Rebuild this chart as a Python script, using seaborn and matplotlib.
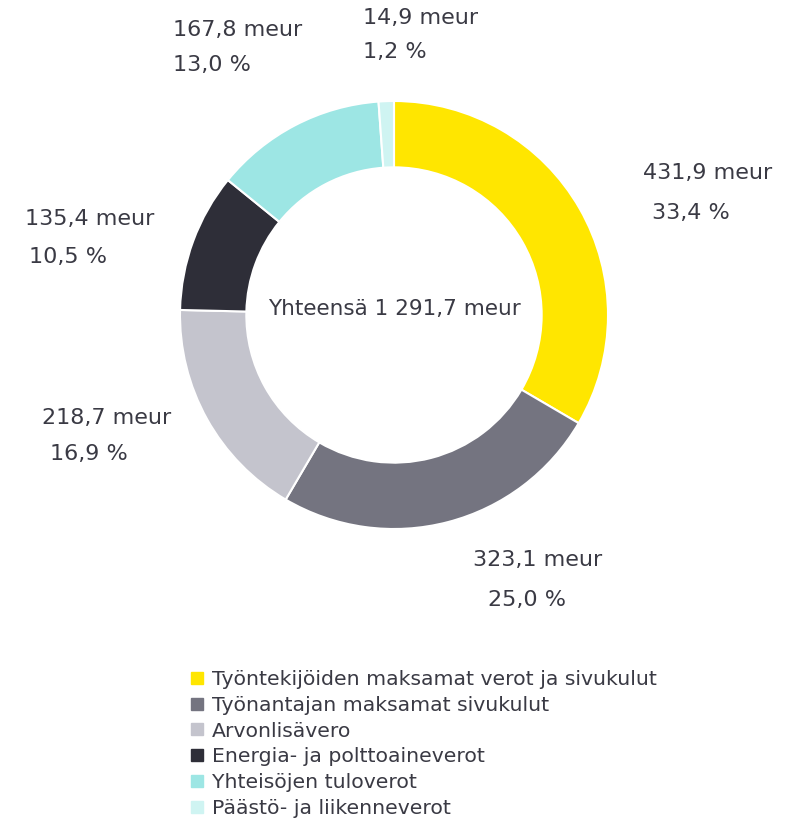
import matplotlib
matplotlib.use("Agg")
import matplotlib.pyplot as plt
from matplotlib.lines import Line2D
import seaborn as sns

categories = ["Työntekijöiden maksamat verot ja sivukulut",
              "Työnantajan maksamat sivukulut",
              "Arvonlisävero",
              "Energia- ja polttoaineverot",
              "Yhteisöjen tuloverot",
              "Päästö- ja liikenneverot"]
values = [431.9, 323.1, 218.7, 135.4, 167.8, 14.9]
shares = ["33,4 %", "25,0 %", "16,9 %", "10,5 %", "13,0 %", "1,2 %"]
total_label = "Yhteensä 1 291,7 meur"

colors = sns.color_palette(["#FFE600", "#747480", "#C4C4CD", "#2E2E38", "#9DE6E4", "#CFF4F2"])
text_col = "#3A3A44"

sns.set_theme(style="white")
plt.rcParams["font.family"] = ["DejaVu Sans"]

W, H = 802, 824
fig = plt.figure(figsize=(W / 100, H / 100), dpi=100)
cx, cy, r = 394, 315, 214
ax = fig.add_axes([(cx - r) / W, (H - cy - r) / H, 2 * r / W, 2 * r / H])
ax.pie(values, colors=colors, startangle=90, counterclock=False, radius=1,
       wedgeprops=dict(width=0.31, edgecolor="white", linewidth=1.5))
ax.set_xlim(-1, 1)
ax.set_ylim(-1, 1)
ax.set_aspect("equal")
ax.axis("off")
ax.text(0, 0.03, total_label, ha="center", va="center", fontsize=15.5, color=text_col)

# label positions in pixels (left, center y of first line)
label_pos = [(643, 173), (473, 560), (42, 418), (25, 219), (173, 30), (363, 18)]
share_off = [(9, 40), (15, 40), (8, 36), (4, 38), (0, 35), (0, 34)]
for v, s, (x, y), (dx, dy) in zip(values, shares, label_pos, share_off):
    fig.text(x / W, 1 - y / H, f"{v:.1f}".replace(".", ",") + " meur",
             ha="left", va="center", fontsize=16, color=text_col)
    fig.text((x + dx) / W, 1 - (y + dy) / H, s,
             ha="left", va="center", fontsize=16, color=text_col)

handles = [Line2D([], [], marker="s", linestyle="", markersize=8, color=c) for c in colors]
fig.legend(handles, categories, loc="upper left", bbox_to_anchor=(183 / W, 1 - 662 / H),
           frameon=False, fontsize=14.7, handlelength=0.6, handletextpad=0.4,
           labelspacing=0.33, borderaxespad=0, labelcolor=text_col)

fig.savefig("out.png", dpi=100, facecolor="white")
